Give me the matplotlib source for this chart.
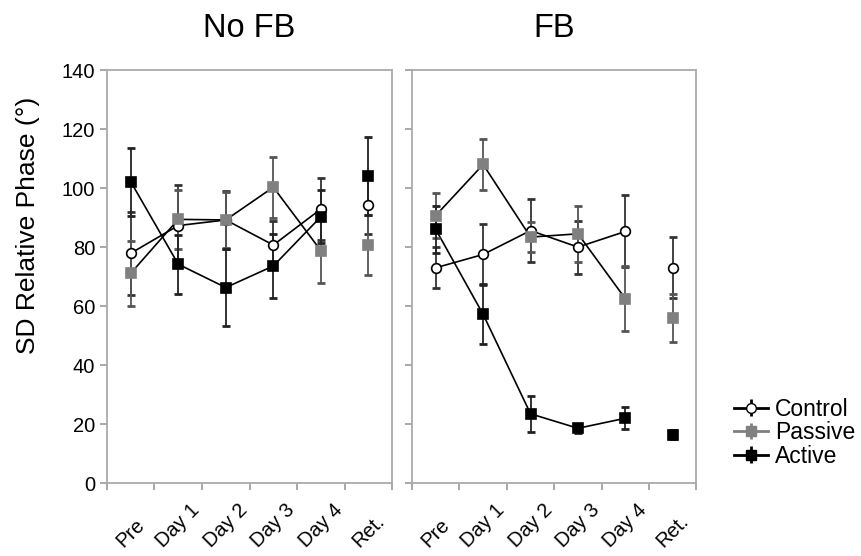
import matplotlib
matplotlib.use("Agg")
import matplotlib.pyplot as plt
from matplotlib.container import ErrorbarContainer
from matplotlib.legend_handler import HandlerErrorbar
import numpy as np

plt.rcParams['font.family'] = ['Liberation Sans', 'DejaVu Sans']

sessions = ["Pre", "Day 1", "Day 2", "Day 3", "Day 4", "Ret."]
groups = ["Control", "Passive", "Active"]

# No FB panel
nofb_control = [77.9, 87.3, 89.2, 80.7, 92.9, 94.4]
nofb_control_sd = [14.0, 13.7, 9.8, 8.0, 10.4, 10.0]
nofb_passive = [71.1, 89.4, 89.2, 100.3, 78.8, 80.6]
nofb_passive_sd = [11.0, 10.0, 9.5, 10.3, 11.0, 10.2]
nofb_active = [102.2, 74.2, 66.3, 73.6, 90.3, 104.1]
nofb_active_sd = [11.5, 10.0, 13.2, 11.0, 9.0, 13.2]

# FB panel
fb_control = [73.0, 77.5, 85.6, 80.0, 85.3, 73.0]
fb_control_sd = [7.0, 10.2, 10.8, 9.0, 12.2, 10.3]
fb_passive = [90.7, 108.0, 83.4, 84.5, 62.5, 56.0]
fb_passive_sd = [7.6, 8.5, 5.0, 9.5, 11.0, 8.0]
fb_active = [86.0, 57.2, 23.5, 18.6, 22.0, 16.4]
fb_active_sd = [8.0, 10.2, 6.2, 1.5, 3.7, 1.5]

panels = [
    ("No FB", [(nofb_control, nofb_control_sd), (nofb_passive, nofb_passive_sd), (nofb_active, nofb_active_sd)]),
    ("FB", [(fb_control, fb_control_sd), (fb_passive, fb_passive_sd), (fb_active, fb_active_sd)]),
]

styles = {
    "Control": dict(marker="o", mfc="white", mec="black"),
    "Passive": dict(marker="s", mfc="#808080", mec="#808080"),
    "Active": dict(marker="s", mfc="black", mec="black"),
}
ecolors = {"Control": "#333333", "Passive": "#555555", "Active": "#222222"}

fig = plt.figure(figsize=(8.62, 5.56), dpi=100)
ax1 = fig.add_axes([0.124, 0.131, 0.331, 0.743])
ax2 = fig.add_axes([0.478, 0.131, 0.330, 0.743])

x = np.arange(len(sessions))
for ax, (title, data) in zip([ax1, ax2], panels):
    for g, (vals, sds) in zip(groups, data):
        st = styles[g]
        # training sessions joined by a line, retention on its own
        ax.plot(x[:5], vals[:5], "-", color="black", lw=1.2, zorder=2)
        ax.errorbar(x, vals, yerr=sds, fmt="none", ecolor=ecolors[g], elinewidth=1.3,
                    capsize=2.6, capthick=2, zorder=3)
        ax.plot(x, vals, linestyle="none", marker=st["marker"], ms=7,
                mfc=st["mfc"], mec=st["mec"], mew=1.2, zorder=4)
    ax.set_xlim(-0.5, 5.5)
    ax.set_ylim(0, 140)
    ax.set_yticks(np.arange(0, 141, 20))
    ax.set_xticks(np.arange(-0.5, 5.6, 1))
    ax.set_xticklabels([])
    ax.set_xticks(x, minor=True)
    ax.set_xticklabels(sessions, minor=True, rotation=45, ha="center", va="bottom",
                       fontsize=14.5)
    ax.tick_params(axis="x", which="minor", length=0, pad=49)
    ax.tick_params(axis="both", which="major", direction="out", length=5,
                   color="#999999", width=1.2, labelsize=14.5)
    for sp in ax.spines.values():
        sp.set_color("#aaaaaa")
        sp.set_linewidth(1.3)
    ax.set_title(title, fontsize=23.5, pad=24)

ax2.set_yticklabels([])
ax1.set_ylabel("SD Relative Phase (°)", fontsize=19)
ax1.yaxis.set_label_coords(-0.235, 0.625)

# legend entries with error bars
leg_handles = []
for g in groups:
    st = styles[g]
    ec = "#808080" if g == "Passive" else "black"
    leg_handles.append(ax1.errorbar([], [], yerr=[], fmt="-" + st["marker"], color=ec, lw=2,
                                    ms=7, mfc=st["mfc"], mec=st["mec"], ecolor=ec,
                                    capsize=11, capthick=2, elinewidth=2))
fig.legend(leg_handles, groups, loc="center left", bbox_to_anchor=(0.838, 0.222),
           frameon=False, fontsize=16.5, handlelength=1.5, handletextpad=0.3,
           labelspacing=0.02, borderpad=0, numpoints=1,
           handler_map={ErrorbarContainer: HandlerErrorbar(yerr_size=0.36)})

fig.savefig("out.png", dpi=100)
